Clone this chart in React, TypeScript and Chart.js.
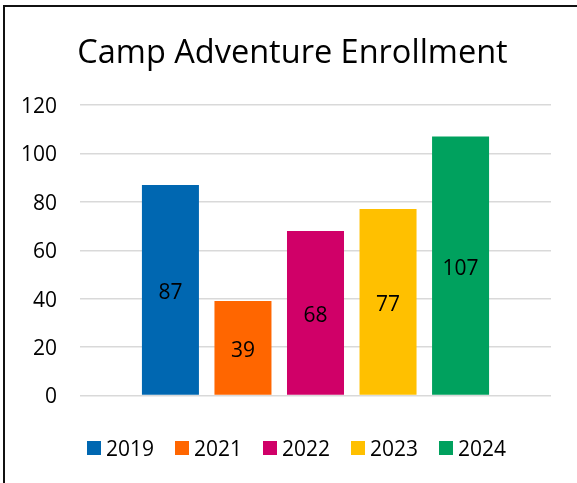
import React, { useEffect, useRef } from "react";
import { Chart, registerables } from "chart.js";

Chart.register(...registerables);

const categories = [""];
const seriesLabels = ["2019", "2021", "2022", "2023", "2024"];
const seriesValues = [87, 39, 68, 77, 107];
const seriesColors = ["#0067B1", "#FF6600", "#D00068", "#FFC000", "#00A15E"];
const yMin = 0;
const yMax = 120;
const yStep = 20;
const titleText = "Camp Adventure Enrollment";

const FONT = "'Open Sans', sans-serif";
const W = 577;
const H = 483;

const barLabelsPlugin = {
  id: "barLabels",
  afterDatasetsDraw(chart: any) {
    const ctx = chart.ctx;
    ctx.save();
    ctx.font = `21px ${FONT}`;
    ctx.fillStyle = "#000";
    ctx.textAlign = "center";
    ctx.textBaseline = "middle";
    chart.data.datasets.forEach((ds: any, i: number) => {
      const meta = chart.getDatasetMeta(i);
      meta.data.forEach((el: any, j: number) => {
        const v = ds.data[j];
        if (v == null) return;
        const p = el.getProps(["x", "y", "base"], true);
        ctx.fillText(String(v), p.x, (p.y + p.base) / 2 + 3);
      });
    });
    ctx.restore();
  },
};

const legendPlugin = {
  id: "bottomLegend",
  afterDraw(chart: any) {
    const ctx = chart.ctx;
    ctx.save();
    ctx.font = `21px ${FONT}`;
    const box = 14;
    const gapText = 5;
    const gapItem = 21;
    const centerX = 296.5;
    const cy = 448;
    const items = chart.data.datasets.map((ds: any) => ({
      text: ds.label,
      color: ds.backgroundColor,
      w: ctx.measureText(ds.label).width,
    }));
    const total =
      items.reduce((s: number, it: any) => s + box + gapText + it.w, 0) +
      gapItem * (items.length - 1);
    let x = centerX - total / 2;
    ctx.textAlign = "left";
    ctx.textBaseline = "middle";
    items.forEach((it: any) => {
      ctx.fillStyle = it.color;
      ctx.fillRect(Math.round(x), cy - box / 2, box, box);
      ctx.fillStyle = "#000";
      ctx.fillText(it.text, x + box + gapText, cy + 2);
      x += box + gapText + it.w + gapItem;
    });
    ctx.restore();
  },
};

export default function App() {
  const canvasRef = useRef<HTMLCanvasElement | null>(null);

  useEffect(() => {
    const canvas = canvasRef.current;
    if (!canvas) return;
    const chart = new Chart(canvas, {
      type: "bar",
      data: {
        labels: categories,
        datasets: seriesLabels.map((label, i) => ({
          label,
          data: [seriesValues[i]],
          backgroundColor: seriesColors[i],
          borderWidth: 0,
          categoryPercentage: 0.77,
          barPercentage: 0.786,
        })),
      },
      options: {
        responsive: false,
        animation: false,
        devicePixelRatio: 1,
        layout: { padding: { left: 8, right: 0, top: 0, bottom: 87.5 } },
        plugins: {
          legend: { display: false },
          tooltip: { enabled: false },
          title: {
            display: true,
            text: titleText,
            color: "#000",
            font: { family: FONT, size: 32.5, weight: "normal" },
            padding: { top: 34, bottom: 32 },
          },
        },
        scales: {
          x: {
            display: false,
          },
          y: {
            min: yMin,
            max: yMax,
            ticks: {
              stepSize: yStep,
              color: "#000",
              padding: 23,
              labelOffset: 2,
              font: { family: FONT, size: 21 },
            },
            grid: {
              color: "#d9d9d9",
              lineWidth: 1.5,
              drawTicks: false,
            },
            border: { display: false },
            afterFit(scale: any) {
              scale.width = 72;
            },
          },
          yRight: {
            position: "right",
            display: true,
            ticks: { display: false },
            grid: { display: false, drawTicks: false },
            border: { display: false },
            afterFit(scale: any) {
              scale.width = 26;
            },
          },
        },
      },
      plugins: [barLabelsPlugin, legendPlugin],
    } as any);
    return () => chart.destroy();
  }, []);

  return (
    <div
      style={{
        position: "absolute",
        left: 0,
        top: 0,
        width: W,
        height: H,
        overflow: "hidden",
        background: "#fff",
      }}
    >
      <canvas ref={canvasRef} width={W} height={H} style={{ width: W, height: H, display: "block" }} />
      <div
        style={{
          position: "absolute",
          left: 3,
          top: 5,
          width: 700,
          height: 700,
          borderLeft: "2px solid #111",
          borderTop: "2px solid #111",
          pointerEvents: "none",
        }}
      />
    </div>
  );
}
